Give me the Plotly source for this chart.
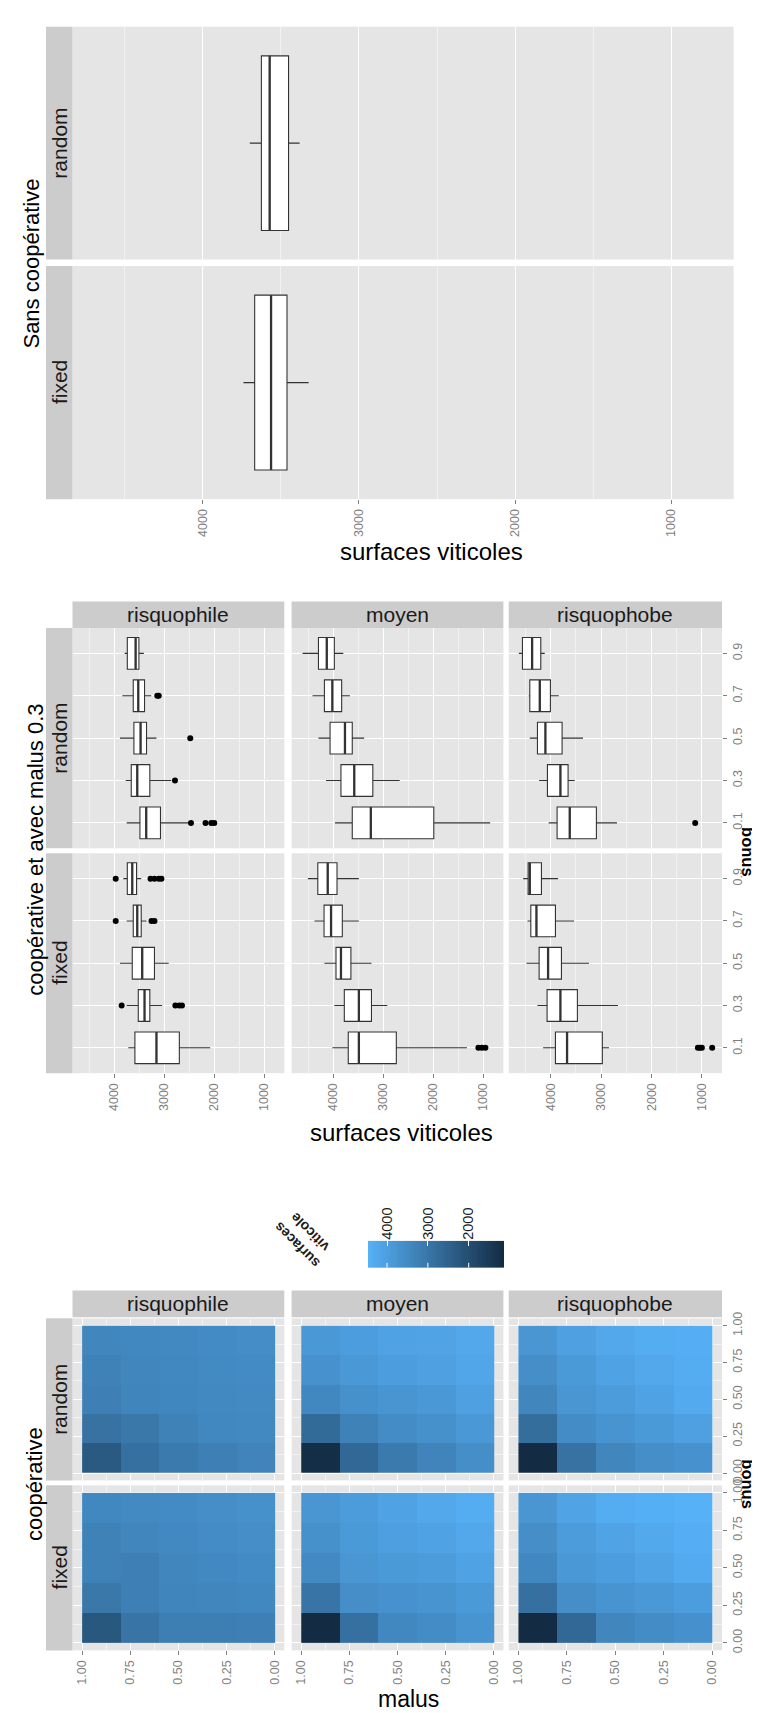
import numpy as np
import plotly.graph_objects as go

W, H = 760, 1713
FONT = "Liberation Sans"

# ---------------- data ----------------
BONUS_LEVELS = ["0.1", "0.3", "0.5", "0.7", "0.9"]
MALUS_LEVELS = [0.1, 0.3, 0.5, 0.7, 0.9]
BONUS_VALUES = [0.1, 0.3, 0.5, 0.7, 0.9]
VALUE_TICKS = [1000, 2000, 3000, 4000]
RATE_TICKS = [0.0, 0.25, 0.5, 0.75, 1.0]
MODES = ["random", "fixed"]
TYPES = ["risquophile", "moyen", "risquophobe"]

# box statistics: [lower whisker, q1, median, q3, upper whisker]
SANS_RANDOM = [3380, 3451, 3572, 3625, 3699]
SANS_FIXED = [3322, 3461, 3563, 3668, 3740]

# one row per bonus level 0.1 .. 0.9
RISQUOPHILE_RANDOM = [
    [2520, 3076, 3361, 3487, 3752],
    [2860, 3289, 3540, 3660, 3772],
    [3156, 3355, 3474, 3607, 3885],
    [3260, 3395, 3520, 3620, 3839],
    [3408, 3507, 3573, 3739, 3792],
]
RISQUOPHILE_FIXED = [
    [2082, 2699, 3156, 3587, 3719],
    [3043, 3289, 3395, 3520, 3752],
    [2911, 3196, 3441, 3640, 3885],
    [3355, 3461, 3540, 3620, 3752],
    [3461, 3554, 3640, 3739, 3819],
]
MOYEN_RANDOM = [
    [865, 1992, 3251, 3622, 3967],
    [2674, 3211, 3582, 3848, 4146],
    [3384, 3622, 3768, 4066, 4298],
    [3669, 3834, 4020, 4179, 4417],
    [3801, 3980, 4132, 4298, 4616],
]
MOYEN_FIXED = [
    [1329, 2741, 3490, 3702, 4020],
    [2920, 3238, 3490, 3781, 3980],
    [3238, 3649, 3848, 3947, 4179],
    [3490, 3821, 4046, 4186, 4378],
    [3490, 3927, 4113, 4311, 4510],
]
RISQUOPHOBE_RANDOM = [
    [2685, 3094, 3623, 3874, 4040],
    [3524, 3656, 3808, 4066, 4231],
    [3359, 3775, 4106, 4264, 4416],
    [3841, 4007, 4218, 4416, 4436],
    [4119, 4198, 4370, 4562, 4634],
]
RISQUOPHOBE_FIXED = [
    [2843, 2976, 3676, 3907, 4152],
    [2665, 3471, 3808, 4073, 4264],
    [3240, 3788, 4053, 4231, 4482],
    [3537, 3907, 4284, 4396, 4462],
    [3855, 4185, 4416, 4449, 4548],
]

# outliers: [bonus level, value]
RISQUOPHILE_RANDOM_OUT = [["0.1", 2466], ["0.1", 2175], ["0.1", 2060], ["0.1", 2000],
                          ["0.3", 2786], ["0.5", 2480], ["0.7", 3140], ["0.7", 3110]]
RISQUOPHILE_FIXED_OUT = [["0.3", 3852], ["0.3", 2778], ["0.3", 2700], ["0.3", 2646],
                         ["0.7", 3971], ["0.7", 3255], ["0.7", 3196],
                         ["0.9", 3971], ["0.9", 3275], ["0.9", 3196], ["0.9", 3110], ["0.9", 3057]]
MOYEN_RANDOM_OUT = []
MOYEN_FIXED_OUT = [["0.1", 1100], ["0.1", 1030], ["0.1", 960]]
RISQUOPHOBE_RANDOM_OUT = [["0.1", 1132]]
RISQUOPHOBE_FIXED_OUT = [["0.1", 1079], ["0.1", 1040], ["0.1", 1000], ["0.1", 795]]

# heatmaps: rows = bonus 0.1..0.9, columns = malus 0.1..0.9
HEAT_RISQUOPHILE_RANDOM = [
    [3350, 3250, 3100, 2850, 2300],
    [3480, 3450, 3300, 3050, 2900],
    [3500, 3460, 3430, 3380, 3250],
    [3520, 3490, 3450, 3400, 3300],
    [3560, 3520, 3480, 3450, 3400],
]
HEAT_MOYEN_RANDOM = [
    [3600, 3350, 3100, 2650, 1200],
    [3850, 3650, 3550, 3300, 2700],
    [4050, 3850, 3780, 3650, 3450],
    [4200, 4050, 3980, 3850, 3700],
    [4250, 4150, 4100, 3980, 3850],
]
HEAT_RISQUOPHOBE_RANDOM = [
    [3700, 3600, 3400, 2900, 1150],
    [4050, 3900, 3750, 3550, 2800],
    [4300, 4100, 3950, 3800, 3400],
    [4350, 4250, 4100, 3900, 3600],
    [4400, 4350, 4250, 4050, 3800],
]
HEAT_RISQUOPHILE_FIXED = [
    [3250, 3200, 3200, 2950, 2250],
    [3450, 3420, 3380, 3250, 3050],
    [3520, 3460, 3420, 3250, 3300],
    [3600, 3540, 3470, 3400, 3300],
    [3650, 3600, 3520, 3500, 3450],
]
HEAT_MOYEN_FIXED = [
    [3750, 3550, 3450, 2850, 1150],
    [3900, 3750, 3700, 3600, 2950],
    [4100, 3950, 3900, 3800, 3500],
    [4250, 4100, 4020, 3900, 3650],
    [4350, 4250, 4100, 3950, 3800],
]
HEAT_RISQUOPHOBE_FIXED = [
    [3680, 3550, 3400, 2650, 1150],
    [3980, 3850, 3750, 3600, 2850],
    [4300, 4150, 3980, 3850, 3450],
    [4400, 4280, 4150, 3950, 3600],
    [4460, 4420, 4350, 4150, 3800],
]
COLOR_MIN, COLOR_MAX = 1135, 4466
LEGEND_TICKS = [2000, 3000, 4000]

# ---------------- styling / layout ----------------
PANEL_BG = "#E5E5E5"
STRIP_BG = "#CCCCCC"
TICKFONT = dict(family=FONT, size=12.5, color="#7F7F7F")
SCALE = [[0, "#132B43"], [1, "#56B1F7"]]
VALUE_RANGE = [4835, 600]

fig = go.Figure()
axes = {}
count = [0]
shapes = []
annotations = []


def add_subplot(x0, x1, y0, y1, xcfg, ycfg):
    count[0] += 1
    s = "" if count[0] == 1 else str(count[0])
    xcfg = dict(xcfg)
    ycfg = dict(ycfg)
    xcfg.update(domain=[x0 / W, x1 / W], anchor="y" + s)
    ycfg.update(domain=[1 - y1 / H, 1 - y0 / H], anchor="x" + s)
    axes["xaxis" + s] = xcfg
    axes["yaxis" + s] = ycfg
    return "x" + s, "y" + s


def rect(x0, x1, y0, y1, color=STRIP_BG):
    shapes.append(dict(type="rect", xref="paper", yref="paper", x0=x0 / W, x1=x1 / W,
                       y0=1 - y1 / H, y1=1 - y0 / H, fillcolor=color, line=dict(width=0),
                       layer="below"))


def text(x, y, s, size=21, angle=0, color="#1A1A1A", bold=False):
    if bold:
        s = "<b>" + s + "</b>"
    annotations.append(dict(xref="paper", yref="paper", x=x / W, y=1 - y / H, text=s,
                            showarrow=False, textangle=angle, xanchor="center", yanchor="middle",
                            borderpad=0, font=dict(family=FONT, size=size, color=color)))


def value_axis(show):
    return dict(range=VALUE_RANGE, autorange=False, tickmode="array", tickvals=VALUE_TICKS,
                showgrid=True, gridcolor="white", gridwidth=1.1,
                minor=dict(tickmode="array", tickvals=[1500, 2500, 3500, 4500], showgrid=True,
                           gridcolor="#F2F2F2", gridwidth=0.6, ticks=""),
                zeroline=False, showline=False, ticks="outside" if show else "", ticklen=4,
                tickcolor="#7F7F7F", showticklabels=show, tickangle=-90, tickfont=TICKFONT)


def rate_axis(show, rng, side=None):
    d = dict(range=rng, autorange=False, tickmode="array", tickvals=RATE_TICKS, tickformat=".2f",
             showgrid=True, gridcolor="white", gridwidth=1.1,
             minor=dict(tickmode="array", tickvals=[0.125, 0.375, 0.625, 0.875], showgrid=True,
                        gridcolor="#F2F2F2", gridwidth=0.6, ticks=""),
             zeroline=False, showline=False, ticks="outside" if show else "", ticklen=4,
             tickcolor="#7F7F7F", showticklabels=show, tickangle=-90, tickfont=TICKFONT)
    if side:
        d["side"] = side
    return d


def draw_boxes(stats, positions, width, xa, ya):
    lo, q1, med, q3, hi = [list(c) for c in zip(*stats)]
    fig.add_trace(go.Box(orientation="h", y=positions, q1=q1, median=med, q3=q3,
                         lowerfence=lo, upperfence=hi, width=width, whiskerwidth=0,
                         fillcolor="white", line=dict(color="#333333", width=1.1),
                         boxpoints=False, xaxis=xa, yaxis=ya, showlegend=False,
                         hoverinfo="skip"))
    mx, my = [], []
    for m, p in zip(med, positions):
        mx += [m, m, None]
        my += [p - width / 2, p + width / 2, None]
    fig.add_trace(go.Scatter(x=mx, y=my, mode="lines", line=dict(color="#333333", width=2.3),
                             xaxis=xa, yaxis=ya, showlegend=False, hoverinfo="skip"))


def draw_outliers(points, xa, ya):
    if not points:
        return
    fig.add_trace(go.Scatter(x=[v for _, v in points],
                             y=[BONUS_LEVELS.index(b) + 1 for b, _ in points],
                             mode="markers", marker=dict(color="black", size=6),
                             xaxis=xa, yaxis=ya, showlegend=False, hoverinfo="skip"))


# ---------------- chart 1 : Sans coopérative ----------------
TOP_X = (64.5, 725.6)
TOP_ROWS = [(11.8, 246.0), (252.5, 487.0)]
for i, (mode, stats) in enumerate(zip(MODES, [SANS_RANDOM, SANS_FIXED])):
    y0, y1 = TOP_ROWS[i]
    xa, ya = add_subplot(TOP_X[0], TOP_X[1], y0, y1, value_axis(i == 1),
                         dict(range=[0.4, 1.6], autorange=False, showgrid=False,
                              showticklabels=False, zeroline=False, ticks=""))
    draw_boxes([stats], [1], 0.9, xa, ya)
    rect(38, 64.5, y0, y1)
    text(51.5, (y0 + y1) / 2, mode, angle=-90)
text(24, 250, "Sans coopérative", size=22, angle=-90, color="black")
text(423, 540, "surfaces viticoles", size=24, color="black")

# ---------------- chart 2 : coopérative et avec malus 0.3 ----------------
COLS_X = [(64.5, 276.3), (283.6, 495.4), (500.7, 714.0)]
MID_ROWS = [(616.6, 838.2), (843.2, 1064.4)]
MID_STATS = {("random", "risquophile"): (RISQUOPHILE_RANDOM, RISQUOPHILE_RANDOM_OUT),
             ("random", "moyen"): (MOYEN_RANDOM, MOYEN_RANDOM_OUT),
             ("random", "risquophobe"): (RISQUOPHOBE_RANDOM, RISQUOPHOBE_RANDOM_OUT),
             ("fixed", "risquophile"): (RISQUOPHILE_FIXED, RISQUOPHILE_FIXED_OUT),
             ("fixed", "moyen"): (MOYEN_FIXED, MOYEN_FIXED_OUT),
             ("fixed", "risquophobe"): (RISQUOPHOBE_FIXED, RISQUOPHOBE_FIXED_OUT)}
positions = [BONUS_LEVELS.index(b) + 1 for b in BONUS_LEVELS]
for r, mode in enumerate(MODES):
    y0, y1 = MID_ROWS[r]
    for c, typ in enumerate(TYPES):
        x0, x1 = COLS_X[c]
        ycfg = dict(range=[0.4, 5.6], autorange=False, tickmode="array", tickvals=positions,
                    ticktext=BONUS_LEVELS, showgrid=True, gridcolor="white", gridwidth=1.1,
                    zeroline=False, side="right", ticks="outside" if c == 2 else "",
                    ticklen=4, tickcolor="#7F7F7F", showticklabels=(c == 2), tickangle=-90,
                    tickfont=TICKFONT)
        xa, ya = add_subplot(x0, x1, y0, y1, value_axis(r == 1), ycfg)
        stats, outs = MID_STATS[(mode, typ)]
        draw_boxes(stats, positions, 0.75, xa, ya)
        draw_outliers(outs, xa, ya)
    rect(38, 64.5, y0, y1)
    text(51.5, (y0 + y1) / 2, mode, angle=-90)
for c, typ in enumerate(TYPES):
    x0, x1 = COLS_X[c]
    rect(x0, x1, 590, 616.6)
    text((x0 + x1) / 2, 603.3, typ)
text(26.7, 840, "coopérative et avec malus 0.3", size=22, angle=-90, color="black")
text(394, 1124.5, "surfaces viticoles", size=24, color="black")
text(740, 842, "bonus", size=16.5, angle=90, color="black", bold=True)

# ---------------- chart 3 : coopérative (heatmaps) ----------------
HEAT_ROWS = [(1311.0, 1474.0), (1479.0, 1645.0)]
HEAT_DATA = {("random", "risquophile"): HEAT_RISQUOPHILE_RANDOM,
             ("random", "moyen"): HEAT_MOYEN_RANDOM,
             ("random", "risquophobe"): HEAT_RISQUOPHOBE_RANDOM,
             ("fixed", "risquophile"): HEAT_RISQUOPHILE_FIXED,
             ("fixed", "moyen"): HEAT_MOYEN_FIXED,
             ("fixed", "risquophobe"): HEAT_RISQUOPHOBE_FIXED}
for r, mode in enumerate(MODES):
    y0, y1 = HEAT_ROWS[r]
    for c, typ in enumerate(TYPES):
        x0, x1 = COLS_X[c]
        xa, ya = add_subplot(x0, x1, y0, y1, rate_axis(r == 1, [1.05, -0.05]),
                             rate_axis(c == 2, [-0.05, 1.05], side="right"))
        fig.add_trace(go.Heatmap(x=MALUS_LEVELS, y=BONUS_VALUES, z=HEAT_DATA[(mode, typ)],
                                 colorscale=SCALE, zmin=COLOR_MIN, zmax=COLOR_MAX,
                                 showscale=False, xaxis=xa, yaxis=ya, hoverinfo="skip"))
    rect(38, 64.5, y0, y1)
    text(51.5, (y0 + y1) / 2, mode, angle=-90)
for c, typ in enumerate(TYPES):
    x0, x1 = COLS_X[c]
    rect(x0, x1, 1283, 1310)
    text((x0 + x1) / 2, 1296.5, typ)
text(26.7, 1478, "coopérative", size=22, angle=-90, color="black")
text(400, 1694, "malus", size=23, color="black")
text(740, 1478, "bonus", size=16.5, angle=90, color="black", bold=True)

# colour legend (gradient drawn on its own reversed axis)
legend_vals = np.linspace(COLOR_MIN, COLOR_MAX, 120)
xa, ya = add_subplot(360, 496, 1233, 1260,
                     dict(range=[COLOR_MAX, COLOR_MIN], autorange=False, tickmode="array",
                          tickvals=LEGEND_TICKS, side="top", ticks="inside", ticklen=5,
                          tickcolor="white", tickangle=-90, showgrid=False, zeroline=False,
                          showline=False, tickfont=dict(family=FONT, size=14.5, color="#1A1A1A")),
                     dict(range=[-0.5, 0.5], autorange=False, visible=False))
fig.add_trace(go.Heatmap(x=legend_vals, y=[0], z=[legend_vals], colorscale=SCALE,
                         zmin=COLOR_MIN, zmax=COLOR_MAX, showscale=False, xaxis=xa, yaxis=ya,
                         hoverinfo="skip"))
tx, ty = [], []
for t in LEGEND_TICKS:
    tx += [t, t, None]
    ty += [-0.5, -0.32, None]
fig.add_trace(go.Scatter(x=tx, y=ty, mode="lines", line=dict(color="white", width=1),
                         xaxis=xa, yaxis=ya, showlegend=False, hoverinfo="skip"))
text(295, 1231, "surfaces<br>viticole", size=14, angle=-135, color="#1A1A1A", bold=True)

fig.update_layout(width=W, height=H, margin=dict(l=0, r=0, t=0, b=0), autosize=False,
                  paper_bgcolor="white", plot_bgcolor=PANEL_BG, showlegend=False,
                  shapes=shapes, annotations=annotations, **axes)
fig.write_html("out.html")
